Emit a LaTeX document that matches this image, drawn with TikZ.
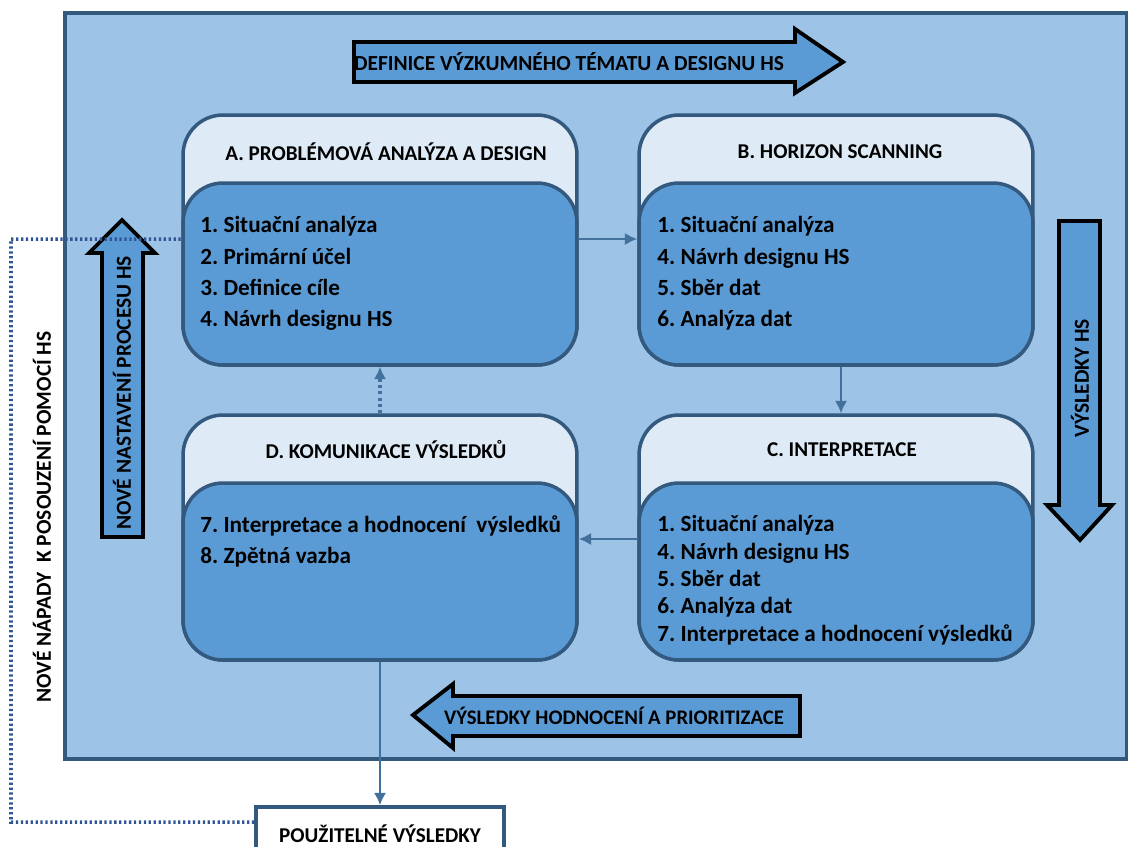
\documentclass[tikz,border=0pt]{standalone}
\usepackage{fontspec}
\setmainfont{Carlito}
\usetikzlibrary{arrows.meta}
\frenchspacing
\definecolor{backblue}{HTML}{9DC3E6}
\definecolor{headblue}{HTML}{DEEBF7}
\definecolor{bodyblue}{HTML}{5B9BD5}
\definecolor{edgeblue}{HTML}{34597F}
\definecolor{linkblue}{HTML}{41719C}
\definecolor{dotblue}{HTML}{2F5597}
\tikzset{
  phase/.style={draw=edgeblue, line width=2pt, fill=headblue, rounded corners=0.8cm, minimum width=7.88cm, inner sep=0pt},
  phasebody/.style={draw=edgeblue, line width=2pt, fill=bodyblue, rounded corners=0.8cm, minimum width=7.88cm, inner sep=0pt},
  title/.style={font=\bfseries\fontsize{12}{14}\selectfont},
  items/.style={font=\bfseries\fontsize{13.2}{17.9}\selectfont, align=left, anchor=north west, inner sep=0pt},
  bigarrow/.style={draw=black, line width=2.2pt, fill=bodyblue, line join=miter},
  arrowtext/.style={font=\bfseries\fontsize{12.2}{14}\selectfont, inner sep=0pt},
  link/.style={draw=linkblue, line width=1.5pt, -{Latex[length=7pt,width=7pt]}},
  loopline/.style={draw=dotblue, line width=2pt, dash pattern=on 1.3pt off 1.5pt},
}
\begin{document}
\begin{tikzpicture}[x=0.02cm, y=-0.02cm]
  \useasboundingbox (0,0) rectangle (1128,846);
  % frame
  \node[draw=edgeblue, fill=backblue, line width=2pt, minimum width=21.24cm, minimum height=14.92cm, inner sep=0pt] (frame) at (596,386) {};
  % big arrows
  \draw[bigarrow] (354,42) -- (795,42) -- (795,29) -- (843,62) -- (795,93) -- (795,82) -- (354,82) -- cycle;
  \node[arrowtext] (deftext) at (569,62) {DEFINICE VÝZKUMNÉHO TÉMATU A DESIGNU HS};
  \draw[bigarrow] (413,715) -- (453,684) -- (453,696) -- (800,696) -- (800,736) -- (453,736) -- (453,748) -- cycle;
  \node[arrowtext, font=\bfseries\fontsize{11.8}{14}\selectfont] (restext) at (614,716) {VÝSLEDKY HODNOCENÍ A PRIORITIZACE};
  \draw[bigarrow] (122,220) -- (155,253) -- (143,253) -- (143,537) -- (102,537) -- (102,253) -- (89,253) -- cycle;
  \node[arrowtext, rotate=90] (settext) at (122,393) {NOVÉ NASTAVENÍ PROCESU HS};
  \draw[bigarrow] (1080,540) -- (1112,505) -- (1100,505) -- (1100,221) -- (1059,221) -- (1059,505) -- (1047,505) -- cycle;
  \node[arrowtext, rotate=90] (hstext) at (1080,378) {VÝSLEDKY HS};
  \node[arrowtext, rotate=90] (ideatext) at (42,517) {NOVÉ NÁPADY \ K POSOUZENÍ POMOCÍ HS};
  % phases
  \node[phase, minimum height=5cm] (A) at (380,240) {};
  \node[phasebody, minimum height=3.64cm] (Abody) at (380,274) {};
  \node[title] (Atitle) at (386,152) {A. PROBLÉMOVÁ ANALÝZA A DESIGN};
  \node[items] (Aitems) at (200,216) {1. Situační analýza\\2. Primární účel\\3. Definice cíle\\4. Návrh designu HS};
  \node[phase, minimum height=5cm] (B) at (836,240) {};
  \node[phasebody, minimum height=3.64cm] (Bbody) at (836,274) {};
  \node[title] (Btitle) at (840,152) {B. HORIZON SCANNING};
  \node[items] (Bitems) at (657,216) {1. Situační analýza\\4. Návrh designu HS\\5. Sběr dat\\6. Analýza dat};
  \node[phase, minimum height=4.9cm] (D) at (380,537.5) {};
  \node[phasebody, minimum height=3.54cm] (Dbody) at (380,571.5) {};
  \node[title] (Dtitle) at (386,450) {D. KOMUNIKACE VÝSLEDKŮ};
  \node[items] (Ditems) at (200,515) {7. Interpretace a hodnocení \ výsledků\\8. Zpětná vazba};
  \node[phase, minimum height=4.9cm] (C) at (836,537.5) {};
  \node[phasebody, minimum height=3.54cm] (Cbody) at (836,571.5) {};
  \node[title] (Ctitle) at (842,450) {C. INTERPRETACE};
  \node[items, font=\bfseries\fontsize{13.2}{15.6}\selectfont] (Citems) at (657,515) {1. Situační analýza\\4. Návrh designu HS\\5. Sběr dat\\6. Analýza dat\\7. Interpretace a hodnocení výsledků};
  % output
  \node[draw=edgeblue, fill=white, line width=2pt, minimum width=4.96cm, minimum height=1.06cm, font=\bfseries\fontsize{12}{14}\selectfont] (out) at (380,833.5) {POUŽITELNÉ VÝSLEDKY};
  % connectors
  \draw[link] ([yshift=0.7cm]Abody.east) -- ([yshift=0.7cm]Bbody.west);
  \draw[link] ([xshift=0.1cm]Bbody.south) -- ([xshift=0.1cm]C.north);
  \draw[link] ([yshift=0.65cm]Cbody.west) -- ([yshift=0.65cm]Dbody.east);
  \draw[link, line width=2pt, dash pattern=on 1.6pt off 2pt] (D.north) -- (Abody.south);
  \draw[link] (Dbody.south) -- (out.north);
  \draw[loopline] ([yshift=0.23cm]out.west) -| (11,239) -- ([yshift=0.7cm]Abody.west);
\end{tikzpicture}
\end{document}
